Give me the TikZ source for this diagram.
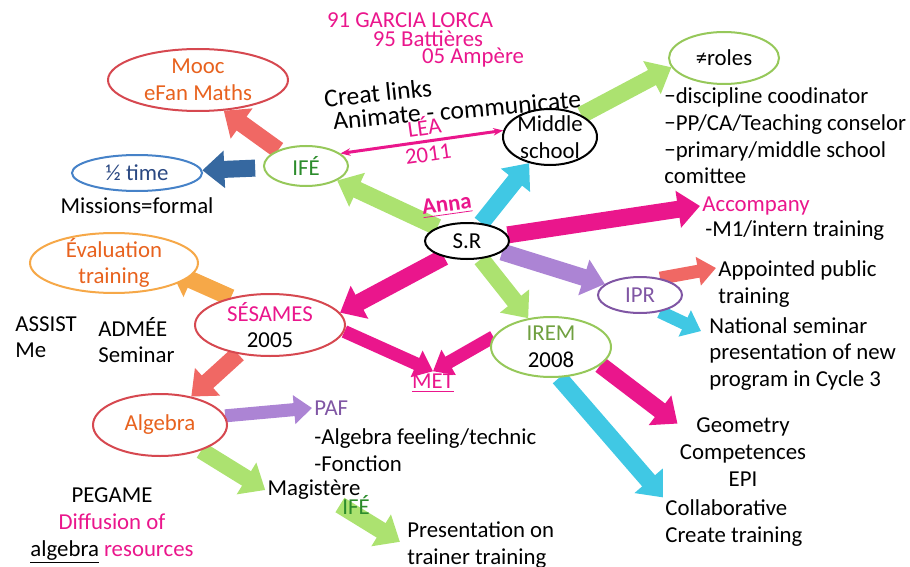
\documentclass[tikz,border=0pt]{standalone}
\usepackage{fontspec}
\setmainfont{Carlito}
\usepackage{tikz}
\usetikzlibrary{shapes.geometric, arrows.meta, backgrounds}
\definecolor{hotpink}{RGB}{234, 22, 140}
\definecolor{burnt}{RGB}{232, 98, 30}
\definecolor{forest}{RGB}{44, 140, 44}
\definecolor{inkblue}{RGB}{42, 72, 130}
\definecolor{sky}{RGB}{70, 130, 200}
\definecolor{leaf}{RGB}{150, 200, 90}
\definecolor{lime}{RGB}{172, 226, 112}
\definecolor{moss}{RGB}{112, 160, 64}
\definecolor{coral}{RGB}{240, 104, 100}
\definecolor{rosered}{RGB}{214, 72, 80}
\definecolor{cyanish}{RGB}{64, 200, 228}
\definecolor{steel}{RGB}{54, 104, 160}
\definecolor{lilac}{RGB}{172, 132, 212}
\definecolor{plum}{RGB}{128, 86, 164}
\definecolor{amber}{RGB}{246, 168, 72}

\begin{document}
\begin{tikzpicture}[x=0.5pt, y=-0.5pt, font=\fontsize{11.4}{13.3}\selectfont,
    bubble/.style={ellipse, draw, line width=1pt, fill=white, inner xsep=0pt, inner ysep=-2pt, align=center},
    txt/.style={inner sep=1pt, align=left},
    fat/.style={line width=8.5pt, -{Triangle[width=18pt, length=11pt]}},
    slim/.style={line width=6.5pt, -{Triangle[width=14pt, length=9pt]}}]
    \clip (0, 0) rectangle (910, 567);

    \node[txt, text=hotpink] (garcia) at (410, 20) {91 GARCIA LORCA};
    \node[txt, text=hotpink] (battieres) at (428, 39) {95 Battières};
    \node[txt, text=hotpink] (ampere) at (473, 58) {05 Ampère};

    \node[bubble, draw=rosered, text=burnt, minimum width=90pt, minimum height=31pt] (mooc) at (198, 80) {Mooc\\eFan Maths};
    \node[bubble, draw=leaf, text=forest, minimum width=42pt, minimum height=20pt] (ife) at (306, 166) {IFÉ};
    \node[bubble, draw=sky, text=inkblue, minimum width=65pt, minimum height=18pt] (half) at (137, 173) {½ time};
    \node[txt] (missions) at (137, 206) {Missions=formal};

    \node[txt, font=\fontsize{12.8}{15}\selectfont, rotate=6] (links) at (378, 93) {Creat links};
    \node[txt, font=\fontsize{12.8}{15}\selectfont, rotate=5] (animate) at (457, 110) {Animate - communicate};
    \node[txt, text=hotpink, align=center, rotate=8] (lea) at (426, 139) {LÉA\\2011};

    \node[bubble, minimum width=47pt, minimum height=28pt] (middle) at (550, 137) {Middle\\school};
    \node[bubble, draw=leaf, minimum width=55pt, minimum height=26pt] (roles) at (724, 58) {≠roles};
    \node[txt, anchor=west] (duties) at (662, 136) {−discipline coodinator\\−PP/CA/Teaching conselor\\−primary/middle school\\comittee};

    \node[bubble, minimum width=42pt, minimum height=18pt] (sr) at (467, 241) {S.R};
    \node[txt, text=hotpink, font=\fontsize{11.4}{13.3}\selectfont\bfseries, rotate=8] (anna) at (447, 206) {\underline{Anna}};

    \node[txt, anchor=west, text=hotpink] (accomp) at (700, 206) {Accompany};
    \node[txt, anchor=west] (intern) at (703, 231) {-M1/intern training};

    \node[bubble, draw=plum, text=plum, minimum width=42pt, minimum height=18pt] (ipr) at (640, 295) {IPR};
    \node[txt, anchor=west] (appoint) at (716, 284) {Appointed public\\training};
    \node[txt, anchor=west] (national) at (707, 354) {National seminar\\presentation of new\\program in Cycle 3};

    \node[bubble, draw=leaf, minimum width=60pt, minimum height=30pt] (irem) at (551, 347) {\textcolor{moss}{IREM}\\2008};
    \node[txt, align=center] (geom) at (743, 452) {Geometry\\Competences\\EPI};
    \node[txt, anchor=west] (collab) at (663, 523) {Collaborative\\Create training};

    \node[bubble, draw=rosered, minimum width=75pt, minimum height=31pt] (sesames) at (270, 325) {\textcolor{hotpink}{SÉSAMES}\\2005};
    \node[txt, text=hotpink] (met) at (433, 383) {\underline{MET}};
    \node[bubble, draw=amber, text=burnt, minimum width=84pt, minimum height=30pt] (evalu) at (114, 263) {Évaluation\\training};
    \node[txt, anchor=west] (assist) at (13, 337) {ASSIST\\Me};
    \node[txt, anchor=west] (admee) at (96, 340) {ADMÉE\\Seminar};

    \node[bubble, draw=rosered, text=burnt, minimum width=67pt, minimum height=31pt] (algebra) at (160, 425) {Algebra};
    \node[txt, anchor=west, text=plum] (paf) at (312, 408) {PAF};
    \node[txt, anchor=west] (feeling) at (312, 450) {-Algebra feeling/technic\\-Fonction};
    \node[txt] (magis) at (314, 490) {Magistère};
    \node[txt, text=forest] (ife2) at (356, 505) {IFÉ};
    \node[txt, anchor=west] (present) at (405, 545) {Presentation on\\trainer training};
    \node[txt, align=center] (pegame) at (112, 526) {PEGAME\\\textcolor{hotpink}{Diffusion of}\\\underline{algebra} \textcolor{hotpink}{resources}};

    \begin{scope}[on background layer]
        \draw[fat, coral] (ife.150) -- (mooc.-50);
        \draw[fat, steel, shorten <=4pt] (ife) -- (half);
        \draw[fat, lime] (sr) -- (ife);
        \draw[hotpink, line width=1.5pt, {Stealth[length=5pt]}-{Stealth[length=5pt]}] (ife.20) -- (middle.172);
        \draw[fat, cyanish] (sr) -- (middle);
        \draw[fat, lime] (middle.35) -- (roles.190);
        \draw[fat, hotpink] (sr) -- (accomp.west);
        \draw[fat, lilac] (sr) -- (ipr);
        \draw[fat, lime] (sr) -- (irem);
        \draw[fat, hotpink] (sr.215) -- (sesames.10);
        \draw[slim, hotpink] (irem.170) -- (met.north);
        \draw[slim, hotpink] (sesames.-5) -- (met.north);
        \draw[fat, amber] (sesames.145) -- ([xshift=-14pt, yshift=-4pt]evalu.east);
        \draw[fat, coral] (sesames) -- (algebra);
        \draw[slim, lilac] (algebra.8) -- (paf.west);
        \draw[fat, lime] (algebra) -- (magis.west);
        \draw[fat, lime, shorten >=3pt] (ife2.west) -- (present.west);
        \draw[slim, coral] (ipr.40) -- ([yshift=8pt]appoint.west);
        \draw[slim, cyanish] (ipr.-40) -- ([xshift=-3pt, yshift=-8pt]national.north west);
        \draw[fat, hotpink] (irem.-20) -- ([yshift=-4pt]geom.north west);
        \draw[fat, cyanish] (irem.-75) -- (collab.north west);
    \end{scope}
\end{tikzpicture}
\end{document}
